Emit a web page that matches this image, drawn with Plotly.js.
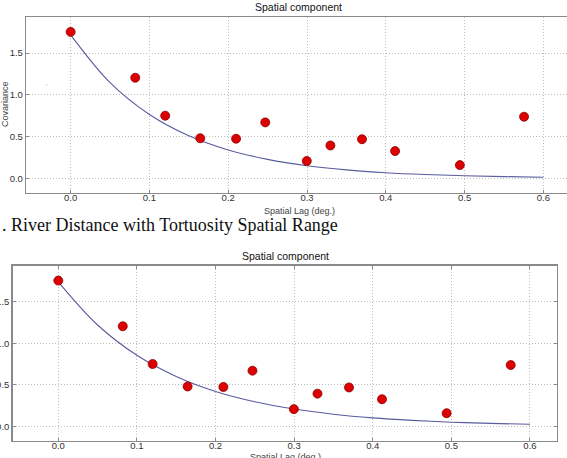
<!DOCTYPE html>
<html>
<head>
<meta charset="utf-8">
<script src="https://cdn.plot.ly/plotly-3.0.1.min.js"></script>
<style>
  html, body { margin: 0; padding: 0; background: #ffffff; }
  #chart { width: 567px; height: 458px; }
</style>
</head>
<body>
<div id="chart"></div>
<script>
// Empirical covariance by spatial lag (same binned estimates in both panels)
const lagX = [0.0, 0.082, 0.120, 0.1645, 0.210, 0.247, 0.2997, 0.3297, 0.3698, 0.4118, 0.494, 0.5755];
const covariance = [1.755, 1.205, 0.750, 0.480, 0.474, 0.670, 0.207, 0.393, 0.468, 0.326, 0.158, 0.738];

// Fitted covariance model, sampled along the lag axis
const fitX = [0.0, 0.05, 0.10, 0.15, 0.20, 0.25, 0.30, 0.35, 0.40, 0.45, 0.50, 0.55, 0.60];
const fitUpper = [1.72, 1.147, 0.765, 0.51, 0.34, 0.227, 0.151, 0.101, 0.067, 0.045, 0.030, 0.020, 0.013];
const fitLower = [1.74, 1.22, 0.855, 0.60, 0.42, 0.296, 0.208, 0.146, 0.102, 0.072, 0.050, 0.035, 0.025];

// Tick labels
const xTicks = [0.0, 0.1, 0.2, 0.3, 0.4, 0.5, 0.6];
const xTickText = ["0.0", "0.1", "0.2", "0.3", "0.4", "0.5", "0.6"];
const yTicks = [0.0, 0.5, 1.0, 1.5];
const yTickText = ["0.0", "0.5", "1.0", "1.5"];

const panelTitle = "Spatial component";
const xTitle = "Spatial Lag (deg.)";
const yTitle = "Covariance";
const caption = ". River Distance with Tortuosity Spatial Range";

const W = 567, H = 458;
const px = v => v / W;
const py = v => 1 - v / H;

const lineColor = "#5a5c9e";
const pointStyle = { size: 9, color: "#dd0000", line: { color: "#8a0000", width: 0.8 } };

const traces = [
  { x: fitX, y: fitUpper, xaxis: "x", yaxis: "y", mode: "lines",
    line: { color: lineColor, width: 1.1, shape: "spline" }, hoverinfo: "skip" },
  { x: lagX, y: covariance, xaxis: "x", yaxis: "y", mode: "markers", marker: pointStyle },
  { x: fitX, y: fitLower, xaxis: "x2", yaxis: "y2", mode: "lines",
    line: { color: lineColor, width: 1.1, shape: "spline" }, hoverinfo: "skip" },
  { x: lagX, y: covariance, xaxis: "x2", yaxis: "y2", mode: "markers", marker: pointStyle }
];

const tickFont = { family: "Liberation Sans, Arial, sans-serif", size: 9.5, color: "#333333" };
const frame = { showline: true, linecolor: "#8a8a8a", linewidth: 1.5 };
const grid = { showgrid: true, gridcolor: "#bdbdbd", gridwidth: 1, griddash: "1px,2px", zeroline: false };

function xAxis(domain, range, anchor, mirror) {
  return Object.assign({
    domain: domain, range: range, anchor: anchor,
    tickmode: "array", tickvals: xTicks, ticktext: xTickText,
    ticks: "inside", ticklen: 3, tickcolor: "#8a8a8a", ticklabelstandoff: -5,
    tickfont: tickFont, mirror: mirror, fixedrange: true
  }, frame, grid);
}
function yAxis(domain, range, anchor, mirror) {
  return Object.assign({
    domain: domain, range: range, anchor: anchor,
    tickmode: "array", tickvals: yTicks, ticktext: yTickText,
    ticks: "inside", ticklen: 3, tickcolor: "#8a8a8a", ticklabelstandoff: 0,
    tickfont: tickFont, mirror: mirror, fixedrange: true
  }, frame, grid);
}

const labelFont = { family: "Liberation Sans, Arial, sans-serif", size: 9, color: "#444444" };
const titleFont = { family: "Liberation Sans, Arial, sans-serif", size: 10.5, color: "#111111" };

const layout = {
  width: W, height: H,
  margin: { l: 0, r: 0, t: 0, b: 0 },
  paper_bgcolor: "#ffffff", plot_bgcolor: "#ffffff",
  showlegend: false,
  xaxis: xAxis([px(26.3), 1], [-0.0563, 0.630], "y", true),
  yaxis: yAxis([py(192.7), py(17.3)], [-0.173, 1.93], "x", false),
  xaxis2: xAxis([px(12.7), px(556.7)], [-0.058, 0.634], "y2", "ticks"),
  yaxis2: yAxis([py(440.7), py(265.7)], [-0.173, 1.934], "x2", "ticks"),
  annotations: [
    { text: panelTitle, xref: "paper", yref: "paper", x: px(298.5), y: py(7.5),
      xanchor: "center", yanchor: "middle", showarrow: false, font: titleFont },
    { text: xTitle, xref: "paper", yref: "paper", x: px(299), y: py(211),
      xanchor: "center", yanchor: "middle", showarrow: false, font: labelFont },
    { text: yTitle, xref: "paper", yref: "paper", x: px(5), y: py(104),
      xanchor: "center", yanchor: "middle", textangle: -90, showarrow: false, font: labelFont },
    { text: "'", xref: "paper", yref: "paper", x: px(46), y: py(86),
      xanchor: "center", yanchor: "middle", showarrow: false,
      font: { family: "Liberation Sans, Arial, sans-serif", size: 7, color: "#999999" } },
    { text: caption, xref: "paper", yref: "paper", x: px(-0.5), y: py(225),
      xanchor: "left", yanchor: "middle", showarrow: false,
      font: { family: "Liberation Serif, Times New Roman, serif", size: 18, color: "#111111" } },
    { text: panelTitle, xref: "paper", yref: "paper", x: px(285.5), y: py(255.5),
      xanchor: "center", yanchor: "middle", showarrow: false, font: titleFont },
    { text: xTitle, xref: "paper", yref: "paper", x: px(285), y: py(457),
      xanchor: "center", yanchor: "middle", showarrow: false, font: labelFont }
  ]
};

Plotly.newPlot("chart", traces, layout, { staticPlot: true, displayModeBar: false });
</script>
</body>
</html>
